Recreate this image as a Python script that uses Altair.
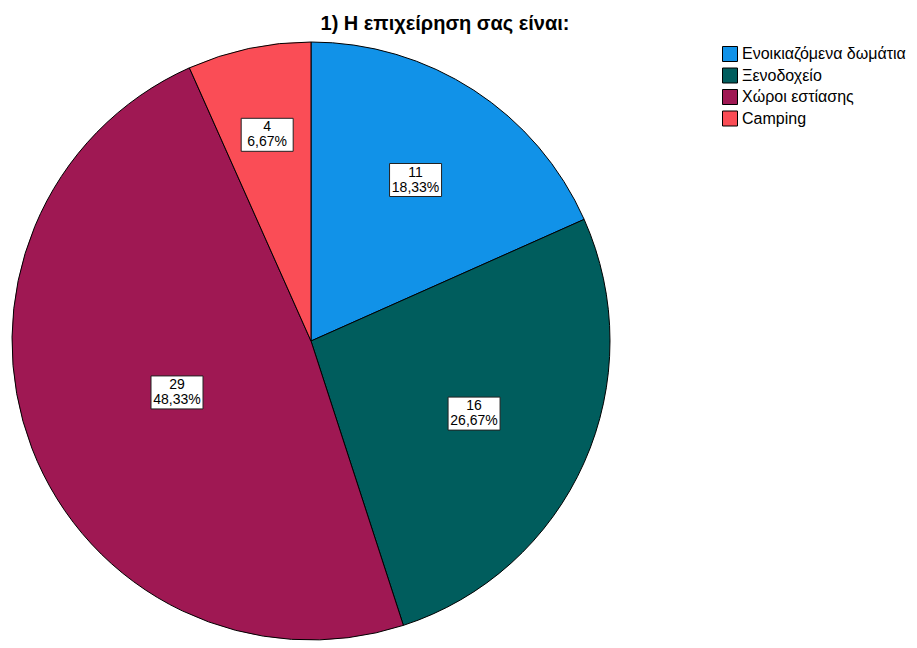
import altair as alt
import pandas as pd

# ---- data ----
categories = ["Ενοικιαζόμενα δωμάτια", "Ξενοδοχείο", "Χώροι εστίασης", "Camping"]
counts = [11, 16, 29, 4]
colors = ["#1192e8", "#005d5d", "#9f1853", "#fa4d56"]
title_text = "1) Η επιχείρηση σας είναι:"

total = sum(counts)
pct_labels = [f"{c / total * 100:.2f}".replace(".", ",") + "%" for c in counts]

df = pd.DataFrame({
    "cat": categories,
    "count": counts,
    "pct": pct_labels,
    "idx": list(range(len(categories))),
})

# ---- layout ----
R = 299
W = H = 606
CX, CY = W / 2, H / 2
BOXW, BOXH = 52, 33

base = alt.Chart(df)

pie = base.mark_arc(outerRadius=R, stroke="black", strokeWidth=1).encode(
    theta=alt.Theta("count:Q", stack=True),
    color=alt.Color(
        "cat:N",
        sort=categories,
        scale=alt.Scale(domain=categories, range=colors),
        legend=alt.Legend(
            title=None,
            orient="none",
            legendX=714,
            legendY=8,
            symbolType="square",
            symbolSize=225,
            symbolStrokeColor="black",
            symbolStrokeWidth=1,
            symbolOpacity=1,
            labelFont="Liberation Sans",
            labelFontSize=16,
            labelColor="black",
            labelOffset=4,
            labelLimit=0,
            rowPadding=1.5,
            padding=0,
        ),
    ),
    order=alt.Order("idx:Q"),
)

# label radius shrinks as the slice share grows (SPSS-like placement)
labels_base = base.transform_joinaggregate(
    total="sum(count)"
).transform_window(
    cum="sum(count)", sort=[alt.SortField("idx")], frame=[None, 0]
).transform_calculate(
    frac="datum.count / datum.total",
    mid="2 * PI * (datum.cum - datum.count / 2) / datum.total",
    lr=f"{R} * (0.741 - 0.54 * datum.frac)",
    lx=f"{CX} + datum.lr * sin(datum.mid)",
    ly=f"{CY} - datum.lr * cos(datum.mid)",
    x0=f"datum.lx - {BOXW / 2}",
    x1=f"datum.lx + {BOXW / 2}",
    y0=f"datum.ly - {BOXH / 2}",
    y1=f"datum.ly + {BOXH / 2}",
    label="datum.count + '\\n' + datum.pct",
)

xs = alt.Scale(domain=[0, W], range=[0, W], nice=False, zero=False)
ys = alt.Scale(domain=[0, H], range=[0, H], nice=False, zero=False)

boxes = labels_base.mark_rect(fill="white", stroke="#222222", strokeWidth=1).encode(
    x=alt.X("x0:Q", scale=xs, axis=None),
    x2="x1:Q",
    y=alt.Y("y0:Q", scale=ys, axis=None),
    y2="y1:Q",
)

texts = labels_base.mark_text(
    font="Liberation Sans", fontSize=14, lineBreak="\n", lineHeight=15,
    color="black", baseline="middle", align="center", dy=-7.5,
).encode(
    x=alt.X("lx:Q", scale=xs, axis=None),
    y=alt.Y("ly:Q", scale=ys, axis=None),
    text="label:N",
)

chart = alt.layer(pie, boxes, texts).properties(
    width=W,
    height=H,
    padding={"left": 0, "top": 30, "right": 295, "bottom": 0},
    autosize="none",
    title=alt.Title(
        title_text,
        font="Liberation Sans",
        fontSize=20,
        fontWeight="bold",
        color="black",
        anchor="middle",
        dx=134,
        offset=4,
    ),
).configure_view(stroke=None)

chart.save("out.html", embed_options={"renderer": "svg", "actions": False})
